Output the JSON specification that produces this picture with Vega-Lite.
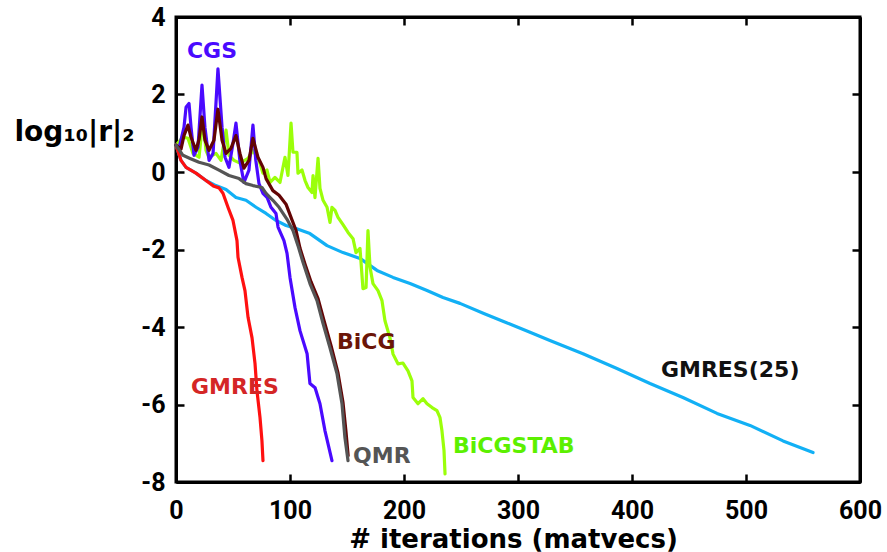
{
  "$schema": "https://vega.github.io/schema/vega-lite/v6.json",
  "width": 684,
  "height": 465,
  "autosize": {"type": "none"},
  "padding": {"left": 176, "top": 17, "right": 27, "bottom": 70},
  "background": "white",
  "config": {
    "view": {"stroke": "black", "strokeWidth": 3},
    "line": {"strokeWidth": 3.2, "strokeJoin": "round", "strokeCap": "round"}
  },
  "datasets": {
    "curves": [
      {"s": "GMRES(25)", "x": 0, "y": 0.69},
      {"s": "GMRES(25)", "x": 4.4, "y": 0.30},
      {"s": "GMRES(25)", "x": 8.8, "y": 0.12},
      {"s": "GMRES(25)", "x": 17.5, "y": -0.03},
      {"s": "GMRES(25)", "x": 26.3, "y": -0.22},
      {"s": "GMRES(25)", "x": 35, "y": -0.35},
      {"s": "GMRES(25)", "x": 43.9, "y": -0.45},
      {"s": "GMRES(25)", "x": 52.6, "y": -0.66},
      {"s": "GMRES(25)", "x": 61.4, "y": -0.73},
      {"s": "GMRES(25)", "x": 70.2, "y": -0.91},
      {"s": "GMRES(25)", "x": 79, "y": -1.07},
      {"s": "GMRES(25)", "x": 87.7, "y": -1.25},
      {"s": "GMRES(25)", "x": 96.5, "y": -1.38},
      {"s": "GMRES(25)", "x": 105.3, "y": -1.46},
      {"s": "GMRES(25)", "x": 117.5, "y": -1.59},
      {"s": "GMRES(25)", "x": 132.5, "y": -1.90},
      {"s": "GMRES(25)", "x": 146.5, "y": -2.08},
      {"s": "GMRES(25)", "x": 161.4, "y": -2.23},
      {"s": "GMRES(25)", "x": 176.3, "y": -2.54},
      {"s": "GMRES(25)", "x": 190.4, "y": -2.72},
      {"s": "GMRES(25)", "x": 205.3, "y": -2.88},
      {"s": "GMRES(25)", "x": 220.2, "y": -3.06},
      {"s": "GMRES(25)", "x": 234.2, "y": -3.24},
      {"s": "GMRES(25)", "x": 249.1, "y": -3.39},
      {"s": "GMRES(25)", "x": 270, "y": -3.65},
      {"s": "GMRES(25)", "x": 290, "y": -3.89},
      {"s": "GMRES(25)", "x": 310, "y": -4.13},
      {"s": "GMRES(25)", "x": 328, "y": -4.35},
      {"s": "GMRES(25)", "x": 357, "y": -4.69},
      {"s": "GMRES(25)", "x": 386.8, "y": -5.07},
      {"s": "GMRES(25)", "x": 415.8, "y": -5.46},
      {"s": "GMRES(25)", "x": 444.7, "y": -5.82},
      {"s": "GMRES(25)", "x": 474.6, "y": -6.23},
      {"s": "GMRES(25)", "x": 503.5, "y": -6.54},
      {"s": "GMRES(25)", "x": 532.5, "y": -6.94},
      {"s": "GMRES(25)", "x": 558.8, "y": -7.24},

      {"s": "BiCGSTAB", "x": 0, "y": 0.69},
      {"s": "BiCGSTAB", "x": 6.1, "y": 0.90},
      {"s": "BiCGSTAB", "x": 10.5, "y": 0.87},
      {"s": "BiCGSTAB", "x": 14.9, "y": 0.48},
      {"s": "BiCGSTAB", "x": 20.2, "y": 0.38},
      {"s": "BiCGSTAB", "x": 23.7, "y": 1.40},
      {"s": "BiCGSTAB", "x": 26.3, "y": 0.56},
      {"s": "BiCGSTAB", "x": 28.9, "y": 0.38},
      {"s": "BiCGSTAB", "x": 35.1, "y": 0.48},
      {"s": "BiCGSTAB", "x": 39.5, "y": 0.30},
      {"s": "BiCGSTAB", "x": 43.9, "y": 1.08},
      {"s": "BiCGSTAB", "x": 46.5, "y": 0.43},
      {"s": "BiCGSTAB", "x": 50.9, "y": 0.30},
      {"s": "BiCGSTAB", "x": 56.1, "y": 0.23},
      {"s": "BiCGSTAB", "x": 63.2, "y": 0.35},
      {"s": "BiCGSTAB", "x": 67.5, "y": 0.56},
      {"s": "BiCGSTAB", "x": 72.8, "y": 0.30},
      {"s": "BiCGSTAB", "x": 76.3, "y": -0.03},
      {"s": "BiCGSTAB", "x": 79.8, "y": 0.05},
      {"s": "BiCGSTAB", "x": 82.5, "y": -0.27},
      {"s": "BiCGSTAB", "x": 86.8, "y": -0.14},
      {"s": "BiCGSTAB", "x": 91.2, "y": -0.27},
      {"s": "BiCGSTAB", "x": 95.6, "y": 0.38},
      {"s": "BiCGSTAB", "x": 98.2, "y": -0.09},
      {"s": "BiCGSTAB", "x": 100.9, "y": 1.26},
      {"s": "BiCGSTAB", "x": 102.6, "y": 0.51},
      {"s": "BiCGSTAB", "x": 106.1, "y": 0.51},
      {"s": "BiCGSTAB", "x": 107, "y": -0.03},
      {"s": "BiCGSTAB", "x": 110.5, "y": 0.05},
      {"s": "BiCGSTAB", "x": 113.2, "y": -0.22},
      {"s": "BiCGSTAB", "x": 115.8, "y": -0.40},
      {"s": "BiCGSTAB", "x": 119.3, "y": -0.53},
      {"s": "BiCGSTAB", "x": 120.2, "y": -0.09},
      {"s": "BiCGSTAB", "x": 121.9, "y": -0.66},
      {"s": "BiCGSTAB", "x": 124.6, "y": 0.35},
      {"s": "BiCGSTAB", "x": 126.3, "y": -0.42},
      {"s": "BiCGSTAB", "x": 129, "y": -0.73},
      {"s": "BiCGSTAB", "x": 132.5, "y": -0.91},
      {"s": "BiCGSTAB", "x": 135.1, "y": -1.30},
      {"s": "BiCGSTAB", "x": 136.8, "y": -0.91},
      {"s": "BiCGSTAB", "x": 139.5, "y": -0.99},
      {"s": "BiCGSTAB", "x": 142.1, "y": -1.17},
      {"s": "BiCGSTAB", "x": 146.5, "y": -1.36},
      {"s": "BiCGSTAB", "x": 150.9, "y": -1.56},
      {"s": "BiCGSTAB", "x": 155.3, "y": -1.72},
      {"s": "BiCGSTAB", "x": 157.9, "y": -2.08},
      {"s": "BiCGSTAB", "x": 161.4, "y": -1.97},
      {"s": "BiCGSTAB", "x": 164, "y": -3.01},
      {"s": "BiCGSTAB", "x": 166.7, "y": -2.98},
      {"s": "BiCGSTAB", "x": 168.4, "y": -1.51},
      {"s": "BiCGSTAB", "x": 170.2, "y": -2.46},
      {"s": "BiCGSTAB", "x": 172.8, "y": -2.88},
      {"s": "BiCGSTAB", "x": 177.2, "y": -3.06},
      {"s": "BiCGSTAB", "x": 180.7, "y": -3.32},
      {"s": "BiCGSTAB", "x": 183.3, "y": -3.84},
      {"s": "BiCGSTAB", "x": 187.7, "y": -4.28},
      {"s": "BiCGSTAB", "x": 190.4, "y": -4.70},
      {"s": "BiCGSTAB", "x": 194.7, "y": -4.95},
      {"s": "BiCGSTAB", "x": 199.1, "y": -4.93},
      {"s": "BiCGSTAB", "x": 203.5, "y": -5.13},
      {"s": "BiCGSTAB", "x": 207, "y": -5.39},
      {"s": "BiCGSTAB", "x": 207.9, "y": -5.82},
      {"s": "BiCGSTAB", "x": 212.3, "y": -5.98},
      {"s": "BiCGSTAB", "x": 216.7, "y": -5.85},
      {"s": "BiCGSTAB", "x": 220.2, "y": -5.98},
      {"s": "BiCGSTAB", "x": 224.6, "y": -6.08},
      {"s": "BiCGSTAB", "x": 228.9, "y": -6.16},
      {"s": "BiCGSTAB", "x": 231.6, "y": -6.34},
      {"s": "BiCGSTAB", "x": 233.3, "y": -6.68},
      {"s": "BiCGSTAB", "x": 235.1, "y": -7.19},
      {"s": "BiCGSTAB", "x": 236, "y": -7.79},

      {"s": "GMRES", "x": 0, "y": 0.69},
      {"s": "GMRES", "x": 4.4, "y": 0.30},
      {"s": "GMRES", "x": 8.8, "y": 0.12},
      {"s": "GMRES", "x": 17.5, "y": -0.03},
      {"s": "GMRES", "x": 25.4, "y": -0.20},
      {"s": "GMRES", "x": 33.3, "y": -0.37},
      {"s": "GMRES", "x": 37.7, "y": -0.41},
      {"s": "GMRES", "x": 41.2, "y": -0.55},
      {"s": "GMRES", "x": 45.6, "y": -0.91},
      {"s": "GMRES", "x": 50, "y": -1.25},
      {"s": "GMRES", "x": 53.5, "y": -1.77},
      {"s": "GMRES", "x": 54.4, "y": -2.20},
      {"s": "GMRES", "x": 57.9, "y": -2.72},
      {"s": "GMRES", "x": 60.5, "y": -3.06},
      {"s": "GMRES", "x": 63.2, "y": -3.75},
      {"s": "GMRES", "x": 66.7, "y": -4.28},
      {"s": "GMRES", "x": 69.3, "y": -4.94},
      {"s": "GMRES", "x": 71, "y": -5.64},
      {"s": "GMRES", "x": 73.7, "y": -6.34},
      {"s": "GMRES", "x": 75.4, "y": -6.94},
      {"s": "GMRES", "x": 76.3, "y": -7.45},

      {"s": "CGS", "x": 0, "y": 0.69},
      {"s": "CGS", "x": 2.6, "y": 0.61},
      {"s": "CGS", "x": 7, "y": 1.15},
      {"s": "CGS", "x": 8.8, "y": 1.67},
      {"s": "CGS", "x": 11.4, "y": 1.77},
      {"s": "CGS", "x": 13.2, "y": 1.15},
      {"s": "CGS", "x": 15.8, "y": 0.43},
      {"s": "CGS", "x": 19.3, "y": 0.64},
      {"s": "CGS", "x": 22.8, "y": 2.24},
      {"s": "CGS", "x": 25.4, "y": 1.15},
      {"s": "CGS", "x": 29, "y": 0.30},
      {"s": "CGS", "x": 32.5, "y": 0.48},
      {"s": "CGS", "x": 36.8, "y": 2.66},
      {"s": "CGS", "x": 40.4, "y": 1.15},
      {"s": "CGS", "x": 43, "y": 0.38},
      {"s": "CGS", "x": 46.5, "y": 0.12},
      {"s": "CGS", "x": 50, "y": 0.74},
      {"s": "CGS", "x": 52.6, "y": 1.26},
      {"s": "CGS", "x": 56, "y": 0.30},
      {"s": "CGS", "x": 59.6, "y": -0.27},
      {"s": "CGS", "x": 64, "y": 0.05},
      {"s": "CGS", "x": 67.5, "y": 1.21},
      {"s": "CGS", "x": 70, "y": 0.30},
      {"s": "CGS", "x": 72.8, "y": -0.30},
      {"s": "CGS", "x": 76.3, "y": -0.55},
      {"s": "CGS", "x": 80, "y": -0.66},
      {"s": "CGS", "x": 83.3, "y": -0.91},
      {"s": "CGS", "x": 87.7, "y": -1.07},
      {"s": "CGS", "x": 89.5, "y": -1.42},
      {"s": "CGS", "x": 94.7, "y": -1.77},
      {"s": "CGS", "x": 97.4, "y": -2.10},
      {"s": "CGS", "x": 100, "y": -2.72},
      {"s": "CGS", "x": 104.4, "y": -3.50},
      {"s": "CGS", "x": 108.8, "y": -4.10},
      {"s": "CGS", "x": 115, "y": -4.69},
      {"s": "CGS", "x": 117.5, "y": -5.46},
      {"s": "CGS", "x": 122, "y": -5.57},
      {"s": "CGS", "x": 126.3, "y": -5.98},
      {"s": "CGS", "x": 130.7, "y": -6.68},
      {"s": "CGS", "x": 136.8, "y": -7.45},

      {"s": "BiCG", "x": 0, "y": 0.69},
      {"s": "BiCG", "x": 4.4, "y": 0.59},
      {"s": "BiCG", "x": 7, "y": 0.94},
      {"s": "BiCG", "x": 10.5, "y": 1.21},
      {"s": "BiCG", "x": 13.2, "y": 0.89},
      {"s": "BiCG", "x": 17.5, "y": 0.56},
      {"s": "BiCG", "x": 20.2, "y": 0.84},
      {"s": "BiCG", "x": 22.8, "y": 1.42},
      {"s": "BiCG", "x": 25.4, "y": 0.82},
      {"s": "BiCG", "x": 29, "y": 0.56},
      {"s": "BiCG", "x": 33.3, "y": 0.82},
      {"s": "BiCG", "x": 36.8, "y": 1.62},
      {"s": "BiCG", "x": 40.4, "y": 0.82},
      {"s": "BiCG", "x": 43.9, "y": 0.48},
      {"s": "BiCG", "x": 48.2, "y": 0.61},
      {"s": "BiCG", "x": 52.6, "y": 0.94},
      {"s": "BiCG", "x": 56.1, "y": 0.48},
      {"s": "BiCG", "x": 59.6, "y": 0.10},
      {"s": "BiCG", "x": 64, "y": 0.30},
      {"s": "BiCG", "x": 67.5, "y": 0.87},
      {"s": "BiCG", "x": 71.9, "y": 0.38},
      {"s": "BiCG", "x": 76.3, "y": 0.12},
      {"s": "BiCG", "x": 79, "y": -0.17},
      {"s": "BiCG", "x": 85, "y": -0.48},
      {"s": "BiCG", "x": 90.4, "y": -0.60},
      {"s": "BiCG", "x": 96.5, "y": -0.83},
      {"s": "BiCG", "x": 100.9, "y": -1.17},
      {"s": "BiCG", "x": 105.3, "y": -1.51},
      {"s": "BiCG", "x": 108.8, "y": -1.97},
      {"s": "BiCG", "x": 113.2, "y": -2.38},
      {"s": "BiCG", "x": 118.4, "y": -2.83},
      {"s": "BiCG", "x": 124.6, "y": -3.27},
      {"s": "BiCG", "x": 129.8, "y": -3.83},
      {"s": "BiCG", "x": 136, "y": -4.48},
      {"s": "BiCG", "x": 142, "y": -5.17},
      {"s": "BiCG", "x": 146.5, "y": -5.95},
      {"s": "BiCG", "x": 149, "y": -6.67},
      {"s": "BiCG", "x": 151, "y": -7.32},

      {"s": "QMR", "x": 0, "y": 0.69},
      {"s": "QMR", "x": 6.1, "y": 0.43},
      {"s": "QMR", "x": 12.3, "y": 0.35},
      {"s": "QMR", "x": 20.2, "y": 0.25},
      {"s": "QMR", "x": 29, "y": 0.18},
      {"s": "QMR", "x": 37.7, "y": 0.05},
      {"s": "QMR", "x": 46.5, "y": -0.09},
      {"s": "QMR", "x": 55.3, "y": -0.17},
      {"s": "QMR", "x": 61.4, "y": -0.30},
      {"s": "QMR", "x": 67.5, "y": -0.35},
      {"s": "QMR", "x": 75.4, "y": -0.40},
      {"s": "QMR", "x": 79, "y": -0.55},
      {"s": "QMR", "x": 85, "y": -0.73},
      {"s": "QMR", "x": 90.4, "y": -0.91},
      {"s": "QMR", "x": 97.4, "y": -1.22},
      {"s": "QMR", "x": 102.6, "y": -1.51},
      {"s": "QMR", "x": 107, "y": -1.90},
      {"s": "QMR", "x": 111.4, "y": -2.33},
      {"s": "QMR", "x": 117.5, "y": -2.88},
      {"s": "QMR", "x": 123.7, "y": -3.32},
      {"s": "QMR", "x": 129, "y": -3.91},
      {"s": "QMR", "x": 135, "y": -4.53},
      {"s": "QMR", "x": 141.2, "y": -5.20},
      {"s": "QMR", "x": 145.6, "y": -5.98},
      {"s": "QMR", "x": 148.2, "y": -6.86},
      {"s": "QMR", "x": 150.9, "y": -7.45}
    ],
    "labels": [
      {"label": "CGS", "x": 9.6, "y": 2.94},
      {"label": "BiCG", "x": 141.2, "y": -4.56},
      {"label": "GMRES", "x": 13.2, "y": -5.72},
      {"label": "QMR", "x": 155.3, "y": -7.5},
      {"label": "BiCGSTAB", "x": 243, "y": -7.24},
      {"label": "GMRES(25)", "x": 425.4, "y": -5.28}
    ]
  },
  "resolve": {"axis": {"x": "independent", "y": "independent"}},
  "layer": [
    {
      "data": {"name": "curves"},
      "transform": [{"filter": "datum.s == 'GMRES(25)'"}],
      "mark": {"type": "line", "color": "#12B0F5"},
      "encoding": {
        "x": {
          "field": "x", "type": "quantitative",
          "scale": {"domain": [0, 600], "nice": false, "zero": false},
          "axis": {
            "orient": "bottom", "values": [0, 100, 200, 300, 400, 500, 600],
            "grid": false, "tickSize": -8, "tickWidth": 2.5, "tickColor": "black",
            "domainColor": "black", "domainWidth": 3,
            "labelFont": "Roboto", "labelFontSize": 25, "labelFontWeight": "bold",
            "labelColor": "black", "labelPadding": 24, "labelFlush": false, "labelOverlap": false,
            "title": "# iterations (matvecs)", "titleFont": "DejaVu Sans", "titleFontSize": 26,
            "titleFontWeight": "bold", "titleColor": "black",
            "titleX": 337, "titleY": 65, "titleAlign": "center", "titleBaseline": "alphabetic"
          }
        },
        "y": {
          "field": "y", "type": "quantitative",
          "scale": {"domain": [-8, 4], "nice": false, "zero": false},
          "axis": {
            "orient": "left", "values": [-8, -6, -4, -2, 0, 2, 4],
            "grid": false, "tickSize": -8, "tickWidth": 2.5, "tickColor": "black",
            "domainColor": "black", "domainWidth": 3,
            "labelFont": "Roboto", "labelFontSize": 25, "labelFontWeight": "bold",
            "labelColor": "black", "labelPadding": 19, "labelFlush": false, "labelOverlap": false,
            "labelExpr": "datum.value + ''",
            "title": "log₁₀|r|₂", "titleFont": "DejaVu Sans", "titleFontSize": 28,
            "titleFontWeight": "bold", "titleColor": "black", "titleAngle": 0,
            "titleX": -162, "titleY": 123, "titleAlign": "left", "titleBaseline": "alphabetic"
          }
        }
      }
    },
    {
      "data": {"name": "curves"},
      "transform": [{"filter": "datum.s == 'BiCGSTAB'"}],
      "mark": {"type": "line", "color": "#9BFF0A"},
      "encoding": {
        "x": {"field": "x", "type": "quantitative", "axis": null},
        "y": {"field": "y", "type": "quantitative", "axis": null}
      }
    },
    {
      "data": {"name": "curves"},
      "transform": [{"filter": "datum.s == 'GMRES'"}],
      "mark": {"type": "line", "color": "#FF1010"},
      "encoding": {
        "x": {"field": "x", "type": "quantitative", "axis": null},
        "y": {"field": "y", "type": "quantitative", "axis": null}
      }
    },
    {
      "data": {"name": "curves"},
      "transform": [{"filter": "datum.s == 'CGS'"}],
      "mark": {"type": "line", "color": "#4A0AFF"},
      "encoding": {
        "x": {"field": "x", "type": "quantitative", "axis": null},
        "y": {"field": "y", "type": "quantitative", "axis": null}
      }
    },
    {
      "data": {"name": "curves"},
      "transform": [{"filter": "datum.s == 'BiCG'"}],
      "mark": {"type": "line", "color": "#630404"},
      "encoding": {
        "x": {"field": "x", "type": "quantitative", "axis": null},
        "y": {"field": "y", "type": "quantitative", "axis": null}
      }
    },
    {
      "data": {"name": "curves"},
      "transform": [{"filter": "datum.s == 'QMR'"}],
      "mark": {"type": "line", "color": "#555555"},
      "encoding": {
        "x": {"field": "x", "type": "quantitative", "axis": null},
        "y": {"field": "y", "type": "quantitative", "axis": null}
      }
    },
    {
      "data": {"name": "labels"},
      "mark": {"type": "text", "font": "DejaVu Sans", "fontSize": 22, "fontWeight": "bold", "align": "left", "baseline": "alphabetic"},
      "encoding": {
        "x": {
          "field": "x", "type": "quantitative",
          "axis": {
            "orient": "top", "values": [0, 100, 200, 300, 400, 500, 600],
            "grid": false, "labels": false, "tickSize": -8, "tickWidth": 2.5, "tickColor": "black",
            "domainColor": "black", "domainWidth": 3, "title": null
          }
        },
        "y": {
          "field": "y", "type": "quantitative",
          "axis": {
            "orient": "right", "values": [-8, -6, -4, -2, 0, 2, 4],
            "grid": false, "labels": false, "tickSize": -8, "tickWidth": 2.5, "tickColor": "black",
            "domainColor": "black", "domainWidth": 3, "title": null
          }
        },
        "text": {"field": "label", "type": "nominal"},
        "color": {
          "field": "label", "type": "nominal", "legend": null,
          "scale": {
            "domain": ["CGS", "BiCG", "GMRES", "QMR", "BiCGSTAB", "GMRES(25)"],
            "range": ["#4A0AFF", "#6B1508", "#D42626", "#555555", "#5CF000", "#111111"]
          }
        }
      }
    }
  ]
}
